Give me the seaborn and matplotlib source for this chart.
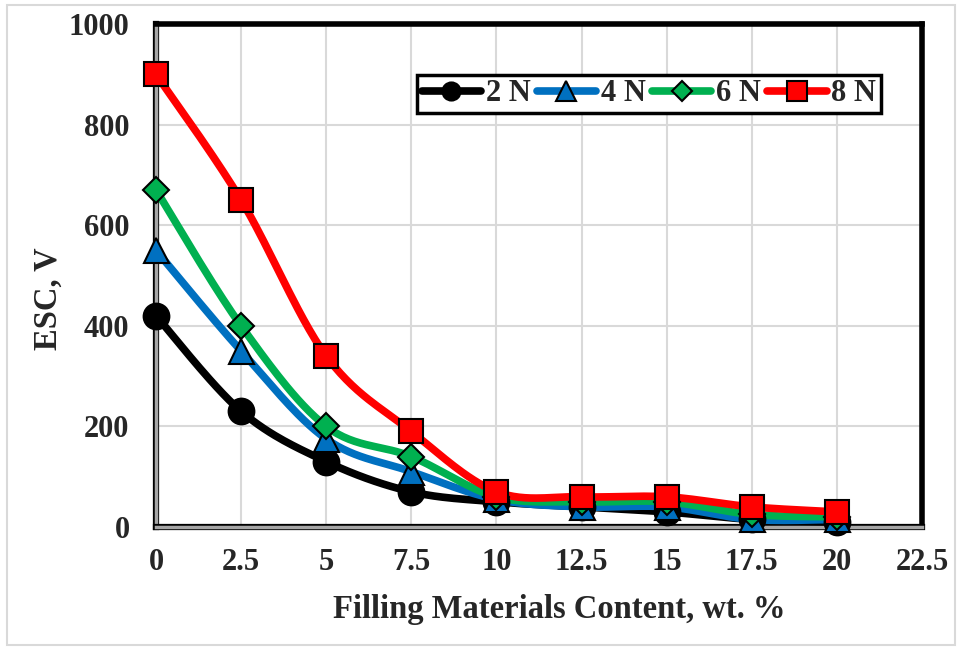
import numpy as np
import pandas as pd
import seaborn as sns
import matplotlib
matplotlib.use("Agg")
import matplotlib.pyplot as plt
from matplotlib.lines import Line2D
from matplotlib.patches import Rectangle
import matplotlib.patheffects as pe

# ---- data ----
content = [0, 2.5, 5, 7.5, 10, 12.5, 15, 17.5, 20]
esc_2N = [420, 230, 130, 70, 50, 40, 30, 15, 10]
esc_4N = [550, 350, 175, 110, 55, 40, 40, 15, 15]
esc_6N = [670, 400, 200, 140, 60, 50, 50, 25, 20]
esc_8N = [900, 650, 340, 190, 70, 60, 60, 40, 30]
series_names = ["2 N", "4 N", "6 N", "8 N"]
x_ticks = [0, 2.5, 5, 7.5, 10, 12.5, 15, 17.5, 20, 22.5]
x_tick_labels = ["0", "2.5", "5", "7.5", "10", "12.5", "15", "17.5", "20", "22.5"]
y_ticks = [0, 200, 400, 600, 800, 1000]

colors = {"2 N": "#000000", "4 N": "#0070C0", "6 N": "#00B050", "8 N": "#FF0000"}
markers = {"2 N": "o", "4 N": "^", "6 N": "D", "8 N": "s"}
msizes = {"2 N": 18.5, "4 N": 18, "6 N": 13.5, "8 N": 17}
leg_msizes = {"2 N": 13, "4 N": 14, "6 N": 10.5, "8 N": 14}

values = {"2 N": esc_2N, "4 N": esc_4N, "6 N": esc_6N, "8 N": esc_8N}
df = pd.DataFrame([(n, x, y) for n in series_names for x, y in zip(content, values[n])],
                  columns=["series", "x", "y"])

def smooth(xs, ys, n=30):
    # Catmull-Rom (Excel-like smoothed line) drawn through the data points
    P = np.column_stack([xs, ys]).astype(float)
    P = np.vstack([P[0], P, P[-1]])
    out = []
    for i in range(1, len(P) - 2):
        p0, p1, p2, p3 = P[i - 1], P[i], P[i + 1], P[i + 2]
        c1 = p1 + (p2 - p0) / 6.0
        c2 = p2 - (p3 - p1) / 6.0
        t = np.linspace(0, 1, n, endpoint=(i == len(P) - 3))[:, None]
        b = ((1 - t) ** 3) * p1 + 3 * ((1 - t) ** 2) * t * c1 + 3 * (1 - t) * t ** 2 * c2 + t ** 3 * p2
        out.append(b)
    return np.vstack(out)

curves = []
for n in series_names:
    c = smooth(content, values[n])
    curves.append(pd.DataFrame({"series": n, "x": c[:, 0], "y": c[:, 1]}))
curve_df = pd.concat(curves, ignore_index=True)

sns.set_theme(style="white")
plt.rcParams["font.family"] = ["Liberation Serif", "DejaVu Serif"]
plt.rcParams["font.weight"] = "bold"

fig = plt.figure(figsize=(9.6, 6.49), dpi=100)
ax = fig.add_axes([0.1625, 0.188, 0.7979, 0.775])

for n in series_names:
    sub = curve_df[curve_df.series == n]
    sns.lineplot(data=sub, x="x", y="y", sort=False, estimator=None, color=colors[n],
                 linewidth=5.5, ax=ax, legend=False, zorder=3)
for n in series_names:
    sub = df[df.series == n]
    ax.plot(sub.x, sub.y, linestyle="none", marker=markers[n], markersize=msizes[n],
            markerfacecolor=colors[n], markeredgecolor="black", markeredgewidth=1.5, zorder=4,
            clip_on=False)

ax.set_xlim(0, 22.5)
ax.set_ylim(0, 1000)
ax.set_xticks(x_ticks)
ax.set_xticklabels(x_tick_labels)
ax.set_yticks(y_ticks)
ax.tick_params(axis="both", labelsize=22, length=0)
ax.tick_params(axis="x", pad=15)
ax.tick_params(axis="y", pad=19)
for lab in ax.get_xticklabels() + ax.get_yticklabels():
    lab.set_fontweight("bold")
ax.grid(True, color="#D9D9D9", linewidth=1.5)
ax.set_axisbelow(True)

for s in ["top", "right"]:
    ax.spines[s].set_color("black")
    ax.spines[s].set_linewidth(4)
for s in ["left", "bottom"]:
    ax.spines[s].set_color("#A6A6A6")
    ax.spines[s].set_linewidth(2.5)
    ax.spines[s].set_path_effects([pe.Stroke(linewidth=4.5, foreground="black"), pe.Normal()])
    ax.spines[s].set_zorder(2.5)

ax.set_xlabel("Filling Materials Content, wt. %", fontsize=23.5, fontweight="bold")
ax.set_ylabel("ESC, V", fontsize=23.5, fontweight="bold")
ax.xaxis.set_label_coords(0.527, -0.133)
ax.yaxis.set_label_coords(-0.12, 0.453)

handles = [Line2D([0], [0], color=colors[n], linewidth=5.5, marker=markers[n], markersize=leg_msizes[n],
                  markerfacecolor=colors[n], markeredgecolor="black", markeredgewidth=1.5, solid_capstyle="round")
           for n in series_names]
leg = ax.legend(handles, series_names, loc="upper right", bbox_to_anchor=(0.946, 0.899), ncol=4,
                frameon=True, fancybox=False, edgecolor="black", handlelength=1.95, handletextpad=0.15,
                columnspacing=0.2, borderpad=0.15, borderaxespad=0, prop={"size": 22, "weight": "bold"})
leg.get_frame().set_linewidth(2.5)
leg.get_frame().set_facecolor("white")
leg.get_frame().set_alpha(1)
leg.set_zorder(5)

fig.patches.append(Rectangle((0.007, 0.006), 0.988, 0.986, transform=fig.transFigure, fill=False,
                             edgecolor="#D9D9D9", linewidth=1.5))

fig.savefig("out.png", dpi=100)
